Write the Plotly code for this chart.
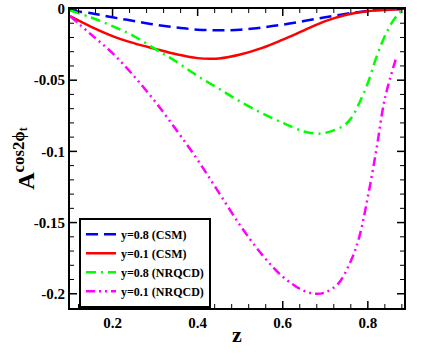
import plotly.graph_objects as go

# y=0.8 (CSM)
z_b = [0.10, 0.15, 0.20, 0.25, 0.30, 0.35, 0.40, 0.45, 0.50, 0.55, 0.60, 0.65, 0.70, 0.75, 0.80, 0.85, 0.88]
a_b = [-0.001, -0.003, -0.0058, -0.0084, -0.011, -0.013, -0.0145, -0.015, -0.0145, -0.013, -0.011, -0.0085, -0.0058, -0.0033, -0.0013, -0.0002, 0.0]

# y=0.1 (CSM)
z_r = [0.10, 0.15, 0.20, 0.25, 0.30, 0.35, 0.40, 0.43, 0.45, 0.50, 0.55, 0.60, 0.65, 0.70, 0.75, 0.80, 0.85, 0.88]
a_r = [-0.005, -0.0125, -0.019, -0.024, -0.028, -0.0318, -0.0345, -0.035, -0.0348, -0.032, -0.0275, -0.0215, -0.015, -0.0085, -0.004, -0.0015, -0.0005, 0.0]

# y=0.8 (NRQCD)
z_g = [0.10, 0.15, 0.20, 0.25, 0.30, 0.35, 0.40, 0.45, 0.50, 0.55, 0.60, 0.65, 0.68, 0.70, 0.74, 0.76, 0.78, 0.80, 0.82, 0.84, 0.86, 0.88]
a_g = [-0.001, -0.006, -0.012, -0.019, -0.028, -0.037, -0.047, -0.056, -0.065, -0.073, -0.080, -0.086, -0.0875, -0.087, -0.0825, -0.077, -0.066, -0.052, -0.034, -0.019, -0.008, -0.001]

# y=0.1 (NRQCD)
z_m = [0.10, 0.15, 0.20, 0.25, 0.30, 0.35, 0.40, 0.45, 0.50, 0.55, 0.60, 0.65, 0.68, 0.70, 0.73, 0.76, 0.78, 0.80, 0.82, 0.84, 0.867]
a_m = [-0.005, -0.018, -0.031, -0.047, -0.065, -0.085, -0.106, -0.129, -0.152, -0.172, -0.188, -0.198, -0.200, -0.199, -0.193, -0.177, -0.160, -0.132, -0.099, -0.063, -0.034]

xtick_vals = [0.2, 0.4, 0.6, 0.8]
xtick_text = ['0.2', '0.4', '0.6', '0.8']
xminor_vals = [0.12, 0.16, 0.24, 0.28, 0.32, 0.36, 0.44, 0.48, 0.52, 0.56, 0.64, 0.68, 0.72, 0.76, 0.84, 0.88]
ytick_vals = [0, -0.05, -0.1, -0.15, -0.2]
ytick_text = ['0', '-0.05', '-0.1', '-0.15', '-0.2']
yminor_vals = [-0.01, -0.02, -0.03, -0.04, -0.06, -0.07, -0.08, -0.09, -0.11, -0.12, -0.13, -0.14,
               -0.16, -0.17, -0.18, -0.19]

x_range = [0.1, 0.885]
y_range = [-0.21, 0]
serif = 'Liberation Serif'

W, H = 436, 354
M = dict(l=70, r=32, t=9, b=46)
plot_w = W - M['l'] - M['r']
plot_h = H - M['t'] - M['b']

fig = go.Figure()
fig.add_trace(go.Scatter(x=z_b, y=a_b, mode='lines', name='<b>y=0.8 (CSM)</b>', line=dict(color='#0000ff', width=2.5, dash='12px,6px', shape='spline')))
fig.add_trace(go.Scatter(x=z_r, y=a_r, mode='lines', name='<b>y=0.1 (CSM)</b>', line=dict(color='#ff0000', width=2.5, shape='spline')))
fig.add_trace(go.Scatter(x=z_g, y=a_g, mode='lines', name='<b>y=0.8 (NRQCD)</b>', line=dict(color='#00ff00', width=2.5, dash='10px,5px,2px,5px', shape='spline')))
fig.add_trace(go.Scatter(x=z_m, y=a_m, mode='lines', name='<b>y=0.1 (NRQCD)</b>', line=dict(color='#ff00ff', width=2.5, dash='9px,4px,2px,4px,2px,4px', shape='spline')))

# inward tick marks on all four sides, drawn as short line segments
# (length given in pixels, turned into data units from the axis ranges)
def tick_lines(vals, length_px, width):
    dy = length_px / plot_h * (y_range[1] - y_range[0])
    dx = length_px / plot_w * (x_range[1] - x_range[0])
    xs, ys = [], []
    for v in vals[0]:
        xs += [v, v, None, v, v, None]
        ys += [y_range[0], y_range[0] + dy, None, y_range[1], y_range[1] - dy, None]
    for v in vals[1]:
        xs += [x_range[0], x_range[0] + dx, None, x_range[1], x_range[1] - dx, None]
        ys += [v, v, None, v, v, None]
    fig.add_trace(go.Scatter(x=xs, y=ys, mode='lines', showlegend=False, hoverinfo='skip',
                             line=dict(color='black', width=width)))

tick_lines((xtick_vals, ytick_vals), 7, 1.5)
tick_lines((xminor_vals, yminor_vals), 4, 1)

frame = dict(
    showline=True, linewidth=2, linecolor='black', mirror=True, ticks='',
    showgrid=False, zeroline=False,
    tickfont=dict(family=serif, size=15, color='black'),
)

fig.update_layout(
    template='none',
    xaxis=dict(range=x_range, tickmode='array', tickvals=xtick_vals,
               ticktext=['<b>%s</b>' % t for t in xtick_text], **frame),
    yaxis=dict(range=y_range, tickmode='array', tickvals=ytick_vals,
               ticktext=['<b>%s</b>' % t for t in ytick_text], **frame),
)

fig.add_annotation(
    text='<b>z</b>', xref='paper', yref='paper', x=0.5, y=-0.09,
    xanchor='center', yanchor='middle', showarrow=False,
    font=dict(family=serif, size=22, color='black'),
)
fig.add_annotation(
    text='<b>A<sup>cos2ϕ<sub>t</sub></sup></b>', textangle=-90,
    xref='paper', yref='paper', x=-0.14, y=0.5, xanchor='center', yanchor='middle',
    showarrow=False, font=dict(family=serif, size=24, color='black'),
)

fig.update_layout(
    width=W, height=H,
    margin=M,
    plot_bgcolor='white', paper_bgcolor='white',
    showlegend=True,
    legend=dict(
        x=0.027, y=0.302, xanchor='left', yanchor='top',
        bordercolor='black', borderwidth=2, bgcolor='white',
        font=dict(family=serif, size=12, color='black'),
        tracegroupgap=0, itemwidth=30,
    ),
)

# drop the default 8px page margin so the figure sits at the window corner
fig.write_html("out.html", config={'displayModeBar': False},
               post_script="document.body.style.margin='0';")
